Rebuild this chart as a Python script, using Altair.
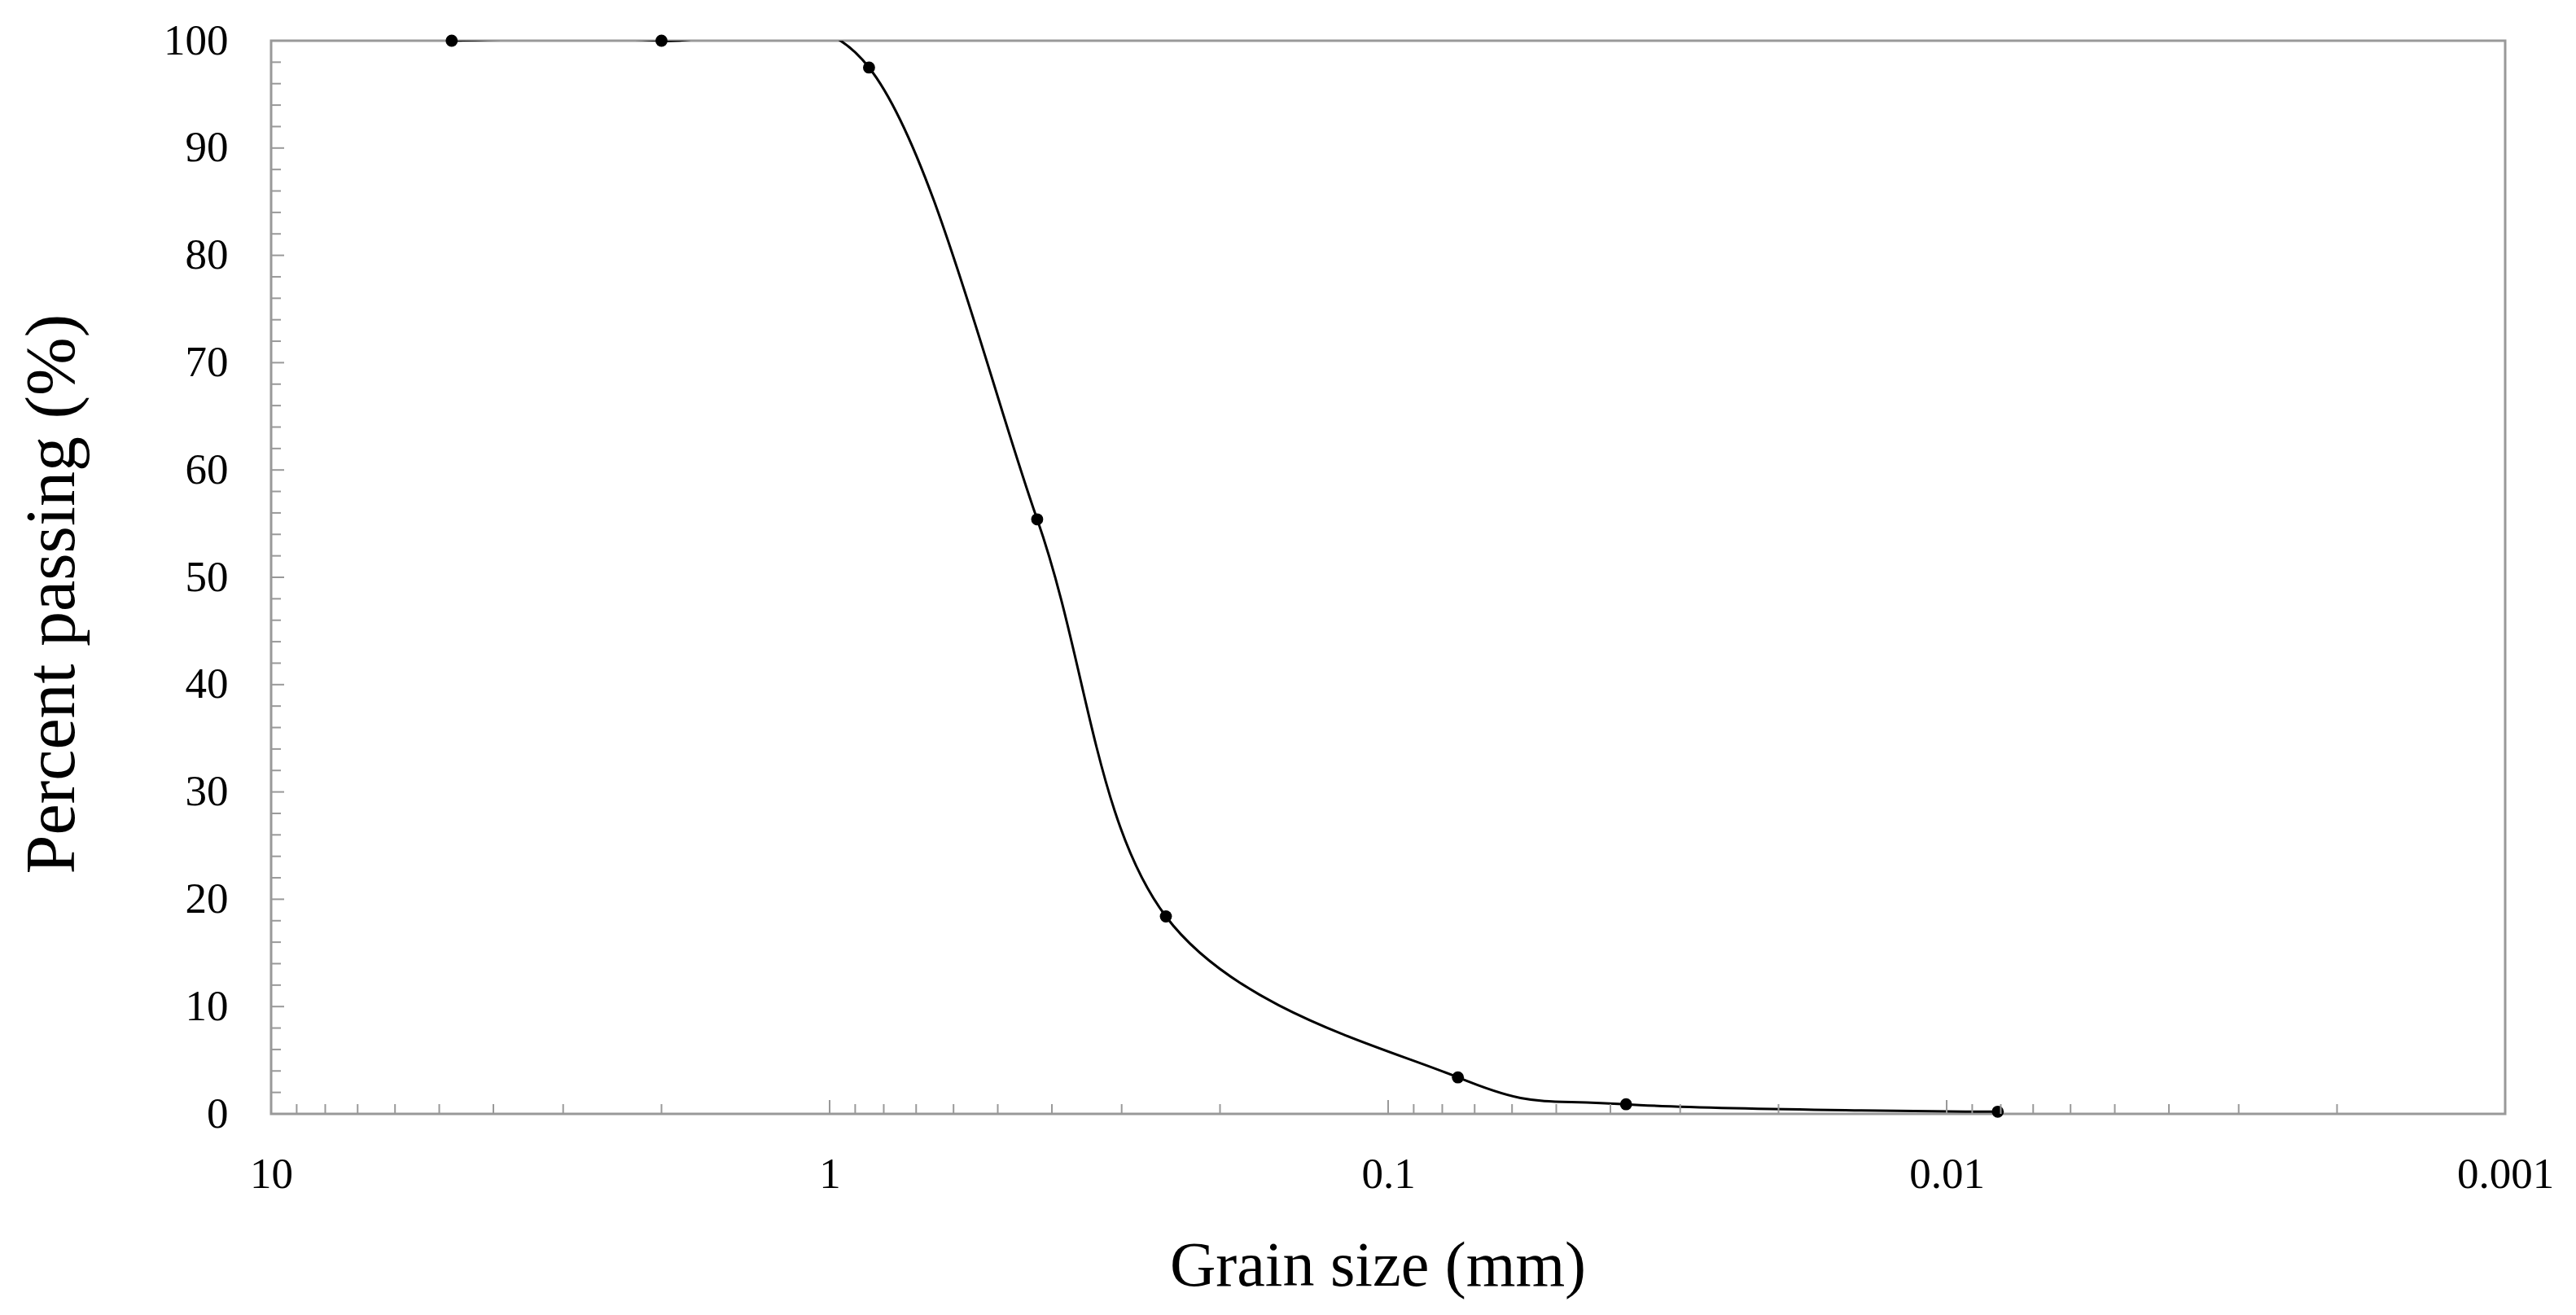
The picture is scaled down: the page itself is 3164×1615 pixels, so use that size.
import altair as alt
import pandas as pd

# Grain size distribution (sieve + hydrometer)
grain_size_mm = [4.75, 2.0, 0.85, 0.425, 0.25, 0.075, 0.0375, 0.0081]
percent_passing = [100.0, 100.0, 97.5, 55.4, 18.4, 3.4, 0.9, 0.2]

# Axis tick values
x_major_ticks = [10, 1, 0.1, 0.01, 0.001]
x_minor_ticks = [round(m * d, 6) for d in [1, 0.1, 0.01, 0.001] for m in range(2, 10)]
y_major_ticks = [0, 10, 20, 30, 40, 50, 60, 70, 80, 90, 100]
y_minor_ticks = [v for v in range(2, 100, 2) if v % 10 != 0]

W, H = 2744, 1318
FONT = "Liberation Serif"
GRAY = "#999999"

df = pd.DataFrame({"size": grain_size_mm, "pct": percent_passing})
xmaj = pd.DataFrame({"size": x_major_ticks[1:-1]})
xmin = pd.DataFrame({"size": x_minor_ticks})
ymaj = pd.DataFrame({"pct": y_major_ticks[1:-1]})
ymin = pd.DataFrame({"pct": y_minor_ticks})

x_scale = alt.Scale(type="log", domain=[0.001, 10], reverse=True, nice=False)
y_scale = alt.Scale(domain=[0, 100], nice=False, zero=True)

x_axis = alt.Axis(
    values=x_major_ticks, format="~g", title="Grain size (mm)",
    grid=False, domain=False, ticks=False, tickSize=0,
    labelPadding=48, labelFontSize=53, labelFont=FONT, labelColor="black",
    titleFont=FONT, titleFontSize=78, titleFontWeight="normal", titleColor="black",
    titleX=1359, titleY=210, titleBaseline="alphabetic", titleAlign="center",
    labelFlush=False, labelOverlap=False,
)
y_axis = alt.Axis(
    values=y_major_ticks, title="Percent passing (%)",
    grid=False, domain=False, ticks=False, tickSize=0,
    labelPadding=53, labelFontSize=53, labelFont=FONT, labelColor="black",
    titleFont=FONT, titleFontSize=86, titleFontWeight="normal", titleColor="black",
    titleX=-243, titleY=679, titleAngle=270, titleBaseline="alphabetic", titleAlign="center",
    labelFlush=False, labelOverlap=False,
)

X = alt.X("size:Q", scale=x_scale, axis=x_axis)
Y = alt.Y("pct:Q", scale=y_scale, axis=y_axis)

line = alt.Chart(df).mark_line(
    interpolate="cardinal", tension=0, clip=True, color="black", strokeWidth=3
).encode(x=X, y=Y)

points = alt.Chart(df).mark_circle(size=220, color="black", opacity=1).encode(x=X, y=Y)

xmaj_r = alt.Chart(xmaj).mark_rule(color=GRAY, strokeWidth=2).encode(
    x=X, y=alt.value(H), y2=alt.value(H - 17))
xmin_r = alt.Chart(xmin).mark_rule(color=GRAY, strokeWidth=2).encode(
    x=X, y=alt.value(H), y2=alt.value(H - 12))
ymaj_r = alt.Chart(ymaj).mark_rule(color=GRAY, strokeWidth=2).encode(
    y=Y, x=alt.value(0), x2=alt.value(16))
ymin_r = alt.Chart(ymin).mark_rule(color=GRAY, strokeWidth=2).encode(
    y=Y, x=alt.value(0), x2=alt.value(12))

chart = alt.layer(line, points, xmaj_r, xmin_r, ymaj_r, ymin_r).properties(
    width=W, height=H,
    autosize=alt.AutoSizeParams(type="none"),
    padding={"left": 325, "top": 42, "right": 60, "bottom": 242},
    background="white",
).configure_view(stroke=GRAY, strokeWidth=3)

chart.save("out.html", embed_options={"renderer": "svg", "actions": False})
